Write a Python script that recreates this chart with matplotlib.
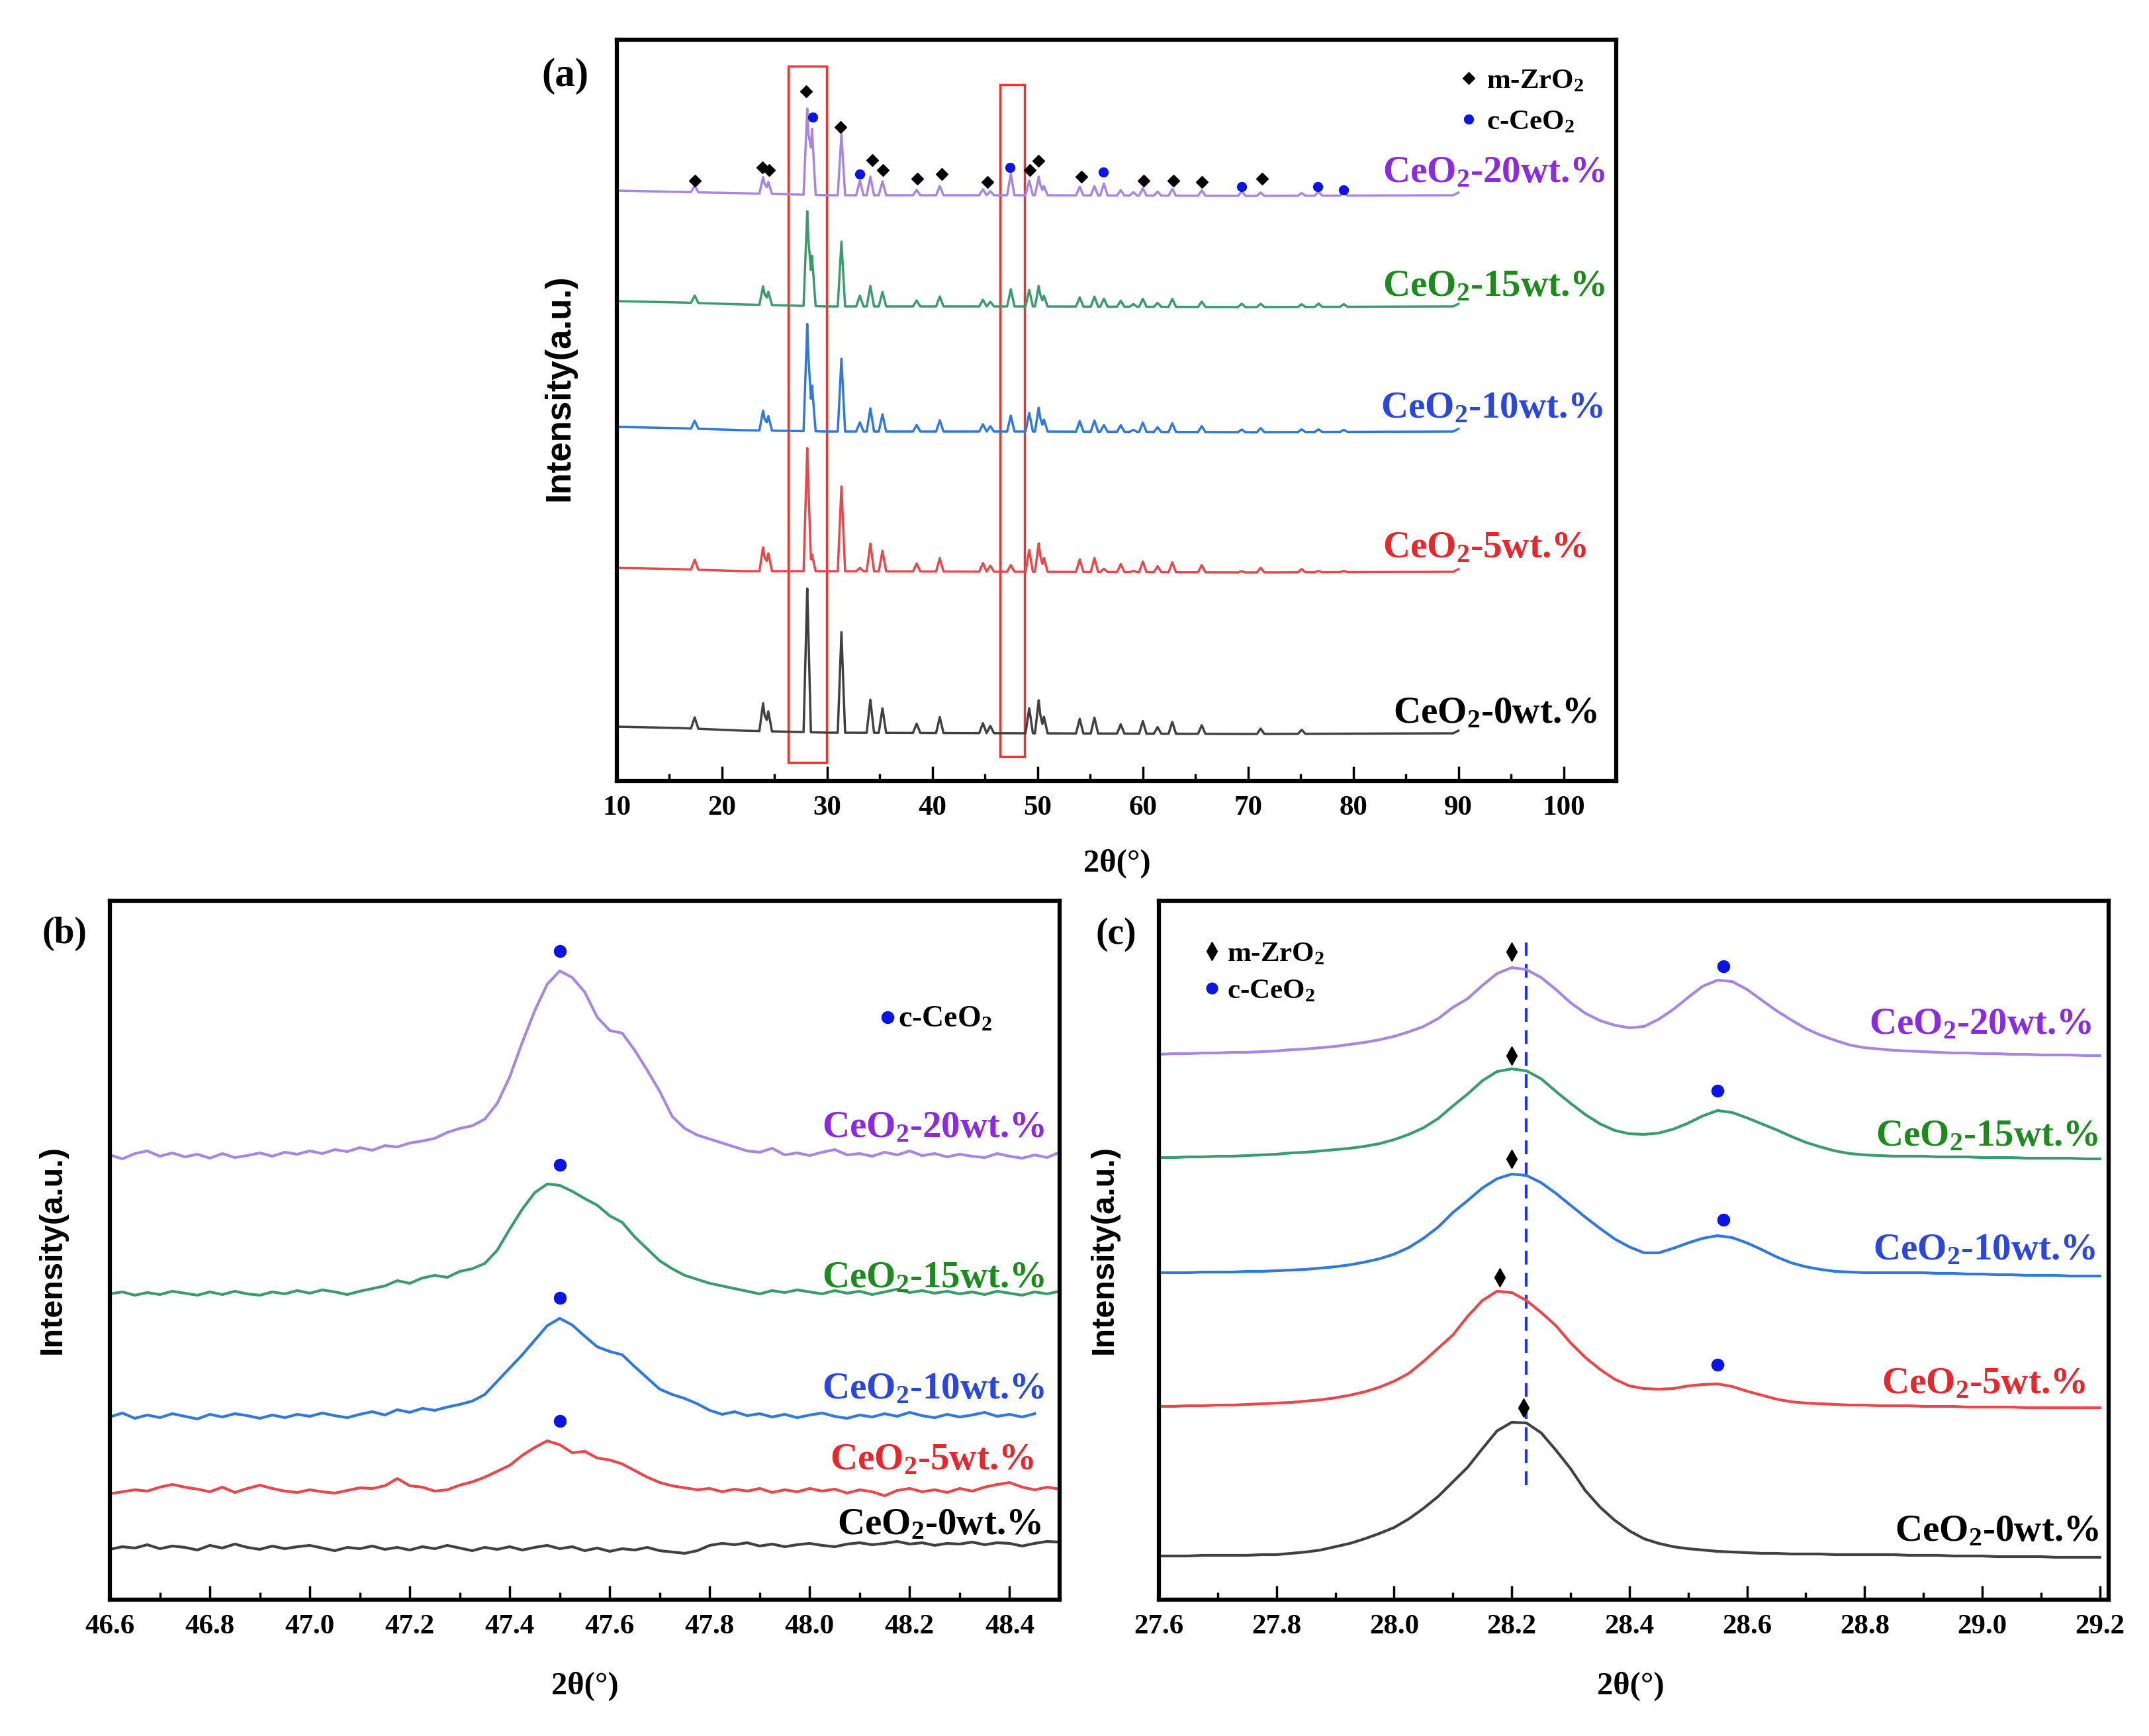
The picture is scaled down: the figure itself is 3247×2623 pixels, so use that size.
import numpy as np
import matplotlib
matplotlib.use('Agg')
import matplotlib.pyplot as plt
from matplotlib.patches import Rectangle
from matplotlib.ticker import MultipleLocator, FormatStrFormatter

plt.rcParams['font.family'] = ['Liberation Serif', 'DejaVu Serif']
plt.rcParams['font.weight'] = 'bold'
plt.rcParams['mathtext.fontset'] = 'custom'
plt.rcParams['mathtext.rm'] = 'Liberation Serif:bold'
plt.rcParams['mathtext.it'] = 'Liberation Serif:bold:italic'
plt.rcParams['mathtext.bf'] = 'Liberation Serif:bold'
plt.rcParams['mathtext.default'] = 'rm'

W, H = 3247, 2623
nan = np.nan

# ---------------- data ----------------
labels = ['CeO$_2$-0wt.%', 'CeO$_2$-5wt.%', 'CeO$_2$-10wt.%', 'CeO$_2$-15wt.%', 'CeO$_2$-20wt.%']
line_colors = ['#404040', '#e8484c', '#3079d8', '#3a9c6c', '#a886e0']
text_colors = ['#000000', '#e8262b', '#2a45e0', '#1d8a1d', '#8a2be2']

# (a) full pattern: baseline knots + peak lists (2theta, height above baseline)
base_x = [10, 16, 22, 30, 50, 70, 89.5, 90]
base_0 = [82, 80, 76, 73, 72, 71, 72, 76]
base_5 = [322, 320, 317, 317, 316, 315, 316, 320]
base_10 = [535, 533, 530, 528, 528, 527, 528, 532]
base_15 = [725, 723, 720, 717, 717, 716, 717, 721]
base_20 = [892, 890, 888, 885, 885, 884, 885, 889]

zro2_pos = [17.4, 23.9, 24.4, 28.1, 31.35, 34.1, 35.25, 38.5, 40.7, 44.8, 45.5, 49.2,
            50.1, 50.6, 54.0, 55.4, 57.9, 60.0, 61.4, 62.8, 65.6, 71.2, 75.1]
zro2_h0 = [17, 42, 30, 217, 152, 50, 37, 14, 24, 15, 11, 38, 50, 25, 22, 24, 14, 19, 10, 18, 13, 8, 6]
zro2_h5 = [15, 36, 27, 186, 128, 42, 31, 12, 20, 13, 9, 33, 43, 21, 19, 21, 12, 16, 9, 15, 11, 7, 5]
zro2_h10 = [12, 30, 22, 162, 110, 35, 26, 10, 17, 11, 8, 28, 36, 18, 16, 17, 10, 14, 7, 13, 9, 6, 4]
zro2_h15 = [11, 28, 20, 143, 98, 31, 22, 9, 15, 10, 7, 25, 31, 16, 14, 15, 9, 12, 6, 12, 8, 5, 4]
zro2_h20 = [10, 25, 18, 130, 92, 28, 21, 8, 14, 9, 6, 22, 28, 14, 13, 14, 8, 11, 6, 10, 8, 5, 4]

ceo2_pos = [28.55, 33.1, 47.45, 56.3, 59.1, 69.4, 76.7, 79.1]
ceo2_h0 = [0, 0, 0, 0, 0, 0, 0, 0]
ceo2_h5 = [25, 5, 10, 5, 2, 2, 2, 2]
ceo2_h10 = [69, 14, 24, 10, 3, 4, 4, 3]
ceo2_h15 = [76, 16, 26, 12, 4, 5, 5, 4]
ceo2_h20 = [100, 22, 32, 18, 5, 7, 6, 6]

# (a) phase markers on the 20wt.% trace
mark_zro2_x = [17.4, 23.84, 24.47, 28.02, 31.26, 34.29, 35.28, 38.57, 40.87, 45.26, 49.28,
               50.06, 54.14, 60.09, 62.92, 65.63, 71.33]
mark_zro2_y = [907, 927, 923, 1042, 988, 938, 923, 910, 917, 905, 923, 937, 913, 907, 907, 905, 910]
mark_ceo2_x = [28.65, 33.09, 47.35, 56.23, 69.39, 76.6, 79.06]
mark_ceo2_y = [1003, 917, 927, 920, 898, 898, 893]

# (b) 46.6-48.5 deg, step 0.025
b_0 = [76, 80, 78, 83, 77, 81, 79, 75, 82, 78, 84, 79, 76, 81, 77, 80, 82, 78, 74, 79,
       77, 81, 76, 79, 75, 80, 77, 82, 78, 74, 79, 76, 80, 75, 79, 82, 77, 80, 74, 78,
       73, 77, 75, 79, 74, 72, 70, 74, 82, 85, 83, 86, 81, 84, 80, 83, 85, 82, 80, 84,
       86, 83, 85, 88, 84, 86, 82, 85, 84, 87, 83, 86, 85, 81, 85, 88, 87]
b_5 = [160, 163, 166, 164, 170, 174, 170, 167, 163, 170, 162, 168, 173, 168, 164, 162, 166, 163, 161, 165,
       169, 168, 172, 183, 172, 170, 164, 166, 173, 178, 185, 194, 203, 218, 230, 240, 234, 222, 224, 214,
       211, 205, 195, 185, 177, 172, 169, 166, 168, 163, 167, 164, 168, 162, 166, 163, 168, 164, 167, 161,
       166, 163, 157, 165, 168, 163, 166, 162, 168, 164, 170, 174, 177, 170, 166, 170, 167]
b_10 = [276, 282, 274, 279, 275, 281, 277, 273, 280, 276, 281, 278, 274, 279, 275, 280, 277, 282, 278, 275,
        280, 284, 279, 287, 283, 289, 286, 291, 295, 300, 310, 330, 350, 370, 392, 414, 425, 415, 398, 382,
        375, 370, 352, 335, 318, 310, 304, 296, 286, 280, 284, 278, 281, 276, 280, 275, 279, 282, 277, 274,
        279, 276, 281, 277, 283, 278, 275, 280, 276, 279, 283, 277, 280, 276, 281, nan, nan]
b_15 = [462, 465, 460, 464, 461, 466, 463, 460, 465, 461, 466, 462, 460, 465, 462, 467, 463, 468, 465, 461,
        466, 470, 474, 482, 478, 486, 490, 487, 496, 500, 508, 528, 560, 590, 615, 628, 626, 617, 606, 596,
        580, 570, 548, 530, 512, 500, 490, 484, 478, 474, 470, 466, 462, 467, 464, 468, 465, 462, 467, 463,
        466, 461, 465, 469, 464, 467, 463, 466, 462, 465, 461, 466, 463, 460, 465, 462, 466]
b_20 = [672, 666, 674, 678, 670, 675, 669, 673, 667, 674, 668, 671, 675, 670, 676, 673, 678, 674, 680, 677,
        683, 679, 686, 684, 690, 693, 697, 706, 712, 716, 726, 750, 790, 842, 890, 930, 950, 940, 918, 880,
        860, 856, 830, 800, 768, 730, 712, 702, 696, 690, 684, 678, 676, 682, 672, 675, 671, 676, 680, 672,
        674, 670, 676, 672, 678, 671, 674, 669, 673, 670, 668, 674, 670, 667, 672, 668, 676]
b_dot_y = [None, 270, 456, 657, 980]

# (c) 27.6-29.2 deg, step 0.025
c_0 = [66, 66, 66, 67, 67, 67, 67, 68, 68, 70, 72, 75, 80, 85, 92, 100, 109, 122, 138, 156,
       178, 200, 228, 255, 268, 267, 252, 226, 198, 165, 140, 120, 104, 92, 85, 80, 77, 75, 73, 72,
       71, 70, 70, 69, 69, 69, 68, 68, 68, 68, 68, 67, 67, 67, 66, 66, 66, 65, 65, 65,
       65, 64, 64, 64, 64]
c_5 = [292, 292, 293, 293, 294, 294, 295, 296, 297, 298, 300, 302, 305, 309, 314, 321, 330, 342, 360, 380,
       400, 428, 452, 466, 464, 452, 434, 414, 388, 366, 348, 333, 323, 319, 318, 319, 323, 325, 326, 322,
       315, 309, 303, 299, 297, 296, 295, 294, 294, 293, 293, 293, 292, 292, 292, 291, 291, 291, 291, 290,
       290, 290, 290, 290, 290]
c_10 = [494, 494, 494, 495, 495, 495, 496, 496, 497, 498, 499, 501, 503, 506, 510, 515, 522, 532, 546, 563,
        585, 603, 622, 636, 643, 641, 630, 614, 596, 578, 561, 545, 533, 524, 524, 531, 539, 546, 550, 547,
        539, 529, 518, 509, 503, 499, 496, 495, 494, 494, 494, 494, 494, 493, 493, 492, 492, 491, 491, 490,
        490, 490, 489, 489, 489]
c_15 = [668, 668, 669, 669, 670, 670, 671, 672, 673, 675, 676, 678, 680, 682, 685, 689, 695, 703, 713, 727,
        746, 764, 784, 798, 802, 799, 787, 768, 750, 733, 719, 709, 704, 703, 705, 711, 720, 731, 739, 736,
        728, 719, 710, 700, 691, 684, 678, 674, 672, 671, 670, 670, 670, 669, 669, 669, 668, 668, 668, 667,
        667, 667, 667, 666, 666]
c_20 = [824, 825, 825, 826, 826, 827, 827, 828, 829, 831, 832, 834, 836, 839, 842, 846, 851, 858, 866, 878,
        895, 908, 928, 946, 955, 952, 940, 922, 902, 886, 875, 868, 864, 866, 877, 892, 910, 927, 936, 934,
        922, 906, 890, 876, 863, 853, 845, 838, 834, 832, 830, 829, 828, 827, 826, 826, 825, 825, 824, 824,
        823, 823, 823, 822, 822]
c_dia_x = [28.22, 28.18, 28.2, 28.2, 28.2]
c_dia_y = [290, 487, 666, 822, 979]
c_dot_x = [None, 28.55, 28.56, 28.55, 28.56]
c_dot_y = [None, 355, 574, 769, 957]

# label baselines / right edges
a_lab_x = [103.2, 102.2, 103.8, 104.0, 104.0]
a_lab_y = [88, 338, 549, 733, 905]
b_lab_x = [48.463, 48.449, 48.47, 48.47, 48.47]
b_lab_y = [99, 197, 304, 472, 699]
c_lab_x = [29.198, 29.176, 29.193, 29.198, 29.187]
c_lab_y = [89, 312, 514, 686, 855]


def xrd_trace(bx, by, pos, hts, w=0.35):
    # piecewise-linear trace: baseline knots plus a triangular spike per peak
    pts = list(bx)
    for p in pos:
        pts += [p - w, p, p + w]
    x = np.unique(np.array(pts, dtype=float))
    x = x[(x >= 10) & (x <= 90)]
    y = np.interp(x, bx, by)
    for p, h in zip(pos, hts):
        y = y + h * np.clip(1 - np.abs(x - p) / w, 0, None)
    return x, y


def box(l, t, r, b):
    return [l / W, 1 - b / H, (r - l) / W, (b - t) / H]


def style(ax, major, minor, fmt):
    ax.set_yticks([])
    ax.xaxis.set_major_locator(MultipleLocator(major))
    ax.xaxis.set_minor_locator(MultipleLocator(minor))
    ax.xaxis.set_major_formatter(FormatStrFormatter(fmt))
    ax.tick_params(axis='x', which='major', direction='in', length=15, width=2.5,
                   labelsize=31, pad=16, top=False)
    ax.tick_params(axis='x', which='minor', direction='in', length=8, width=2.5, top=False)
    for s in ax.spines.values():
        s.set_linewidth(4.5)


fig = plt.figure(figsize=(W / 100, H / 100), dpi=100)

# ---------------- (a) ----------------
ax_a = fig.add_axes(box(932, 60, 2442, 1180))
bases = [base_0, base_5, base_10, base_15, base_20]
zh = [zro2_h0, zro2_h5, zro2_h10, zro2_h15, zro2_h20]
ch = [ceo2_h0, ceo2_h5, ceo2_h10, ceo2_h15, ceo2_h20]
for i in range(5):
    x, y = xrd_trace(base_x, bases[i], zro2_pos + ceo2_pos, zh[i] + ch[i])
    ax_a.plot(x, y, color=line_colors[i], lw=2.5)
    ax_a.text(a_lab_x[i], a_lab_y[i], labels[i], color=text_colors[i], fontsize=41,
              ha='right', va='baseline')
ax_a.plot(mark_zro2_x, mark_zro2_y, 'D', color='black', ms=9, ls='none')
ax_a.plot(mark_ceo2_x, mark_ceo2_y, 'o', color='#0a14e6', ms=10, ls='none')
ax_a.add_patch(Rectangle((26.32, 28.5), 29.95 - 26.32, 1080 - 28.5, fill=False, ec='#ee3333', lw=2.5))
ax_a.add_patch(Rectangle((46.45, 37), 48.77 - 46.45, 1052 - 37, fill=False, ec='#ee3333', lw=2.5))
ax_a.plot([91.0], [1062], 'D', color='black', ms=9)
ax_a.plot([91.0], [1000], 'o', color='#0a14e6', ms=10)
ax_a.text(92.7, 1047, 'm-ZrO$_2$', fontsize=31, va='baseline')
ax_a.text(92.7, 985, 'c-CeO$_2$', fontsize=31, va='baseline')
ax_a.set_xlim(10, 105)
ax_a.set_ylim(0, 1120)
style(ax_a, 10, 5, '%d')
ax_a.tick_params(axis='x', which='major', length=16)

# ---------------- (b) ----------------
ax_b = fig.add_axes(box(166, 1361, 1601, 2417))
xb = np.round(46.6 + 0.025 * np.arange(77), 3)
for i, yb in enumerate([b_0, b_5, b_10, b_15, b_20]):
    ax_b.plot(xb, yb, color=line_colors[i], lw=3)
    ax_b.text(b_lab_x[i], b_lab_y[i], labels[i], color=text_colors[i], fontsize=41,
              ha='right', va='baseline')
    if b_dot_y[i] is not None:
        ax_b.plot([47.5], [b_dot_y[i]], 'o', color='#0a14e6', ms=13)
ax_b.plot([48.156], [880], 'o', color='#0a14e6', ms=13)
ax_b.text(48.177, 865, 'c-CeO$_2$', fontsize=33, va='baseline')
ax_b.set_xlim(46.6, 48.5)
ax_b.set_ylim(0, 1056)
style(ax_b, 0.2, 0.1, '%.1f')

# ---------------- (c) ----------------
ax_c = fig.add_axes(box(1751, 1361, 3186, 2417))
xc = np.round(27.6 + 0.025 * np.arange(65), 3)
ax_c.plot([28.225, 28.225], [173, 993], color='#2233e6', lw=3, ls=(0, (5, 3)))
for i, yc in enumerate([c_0, c_5, c_10, c_15, c_20]):
    ax_c.plot(xc, yc, color=line_colors[i], lw=3)
    ax_c.text(c_lab_x[i], c_lab_y[i], labels[i], color=text_colors[i], fontsize=41,
              ha='right', va='baseline')
    ax_c.plot([c_dia_x[i]], [c_dia_y[i]], 'd', color='black', ms=14)
    if c_dot_x[i] is not None:
        ax_c.plot([c_dot_x[i]], [c_dot_y[i]], 'o', color='#0a14e6', ms=13)
ax_c.plot([27.69], [980], 'd', color='black', ms=14)
ax_c.plot([27.69], [924], 'o', color='#0a14e6', ms=12)
ax_c.text(27.716, 965, 'm-ZrO$_2$', fontsize=31, va='baseline')
ax_c.text(27.716, 909, 'c-CeO$_2$', fontsize=31, va='baseline')
ax_c.set_xlim(27.6, 29.215)
ax_c.set_ylim(0, 1056)
style(ax_c, 0.2, 0.1, '%.1f')

# ---------------- labels ----------------
fig.text(1688 / W, 1 - 1305 / H, '2θ(°)', fontsize=35, ha='center', va='center')
fig.text(884 / W, 1 - 2548 / H, '2θ(°)', fontsize=35, ha='center', va='center')
fig.text(2464 / W, 1 - 2548 / H, '2θ(°)', fontsize=35, ha='center', va='center')
for (xp, yp, fs) in [(845, 586, 38), (79, 1888, 35), (1668, 1888, 35)]:
    fig.text(xp / W, 1 - yp / H, 'Intensity(a.u.)', fontsize=fs, rotation=90,
             ha='center', va='center', family='Liberation Sans', weight='bold')
fig.text(854 / W, 1 - 115 / H, '(a)', fontsize=44, ha='center', va='center')
fig.text(97 / W, 1 - 1411 / H, '(b)', fontsize=40, ha='center', va='center')
fig.text(1686 / W, 1 - 1412 / H, '(c)', fontsize=40, ha='center', va='center')

fig.savefig('out.png', dpi=100, facecolor='white')
